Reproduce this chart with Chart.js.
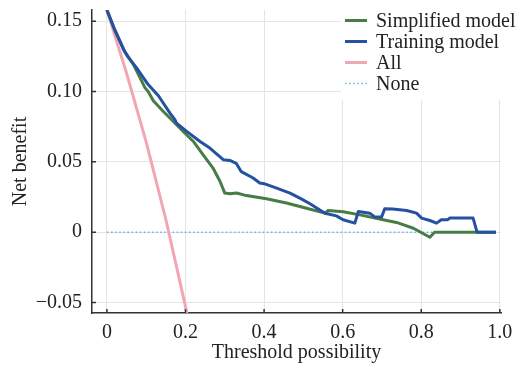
<!DOCTYPE html>
<html>
<head>
<meta charset="utf-8">
<script src="https://cdn.jsdelivr.net/npm/chart.js@4"></script>
<style>
  html, body { margin: 0; padding: 0; background: #fff; }
  #wrap { width: 531px; height: 370px; position: relative; }
</style>
</head>
<body>
<div id="wrap"><canvas id="c" width="531" height="370"></canvas></div>
<script>
// ---- data ----
const simplifiedX = [0, 0.02, 0.033, 0.046, 0.067, 0.084, 0.097, 0.105, 0.118, 0.143, 0.169, 0.198, 0.22, 0.245, 0.27, 0.288, 0.300, 0.313, 0.33, 0.355, 0.406, 0.457, 0.508, 0.555, 0.563, 0.601, 0.644, 0.703, 0.737, 0.780, 0.822, 0.834, 0.99];
const simplifiedNB = [0.158, 0.1435, 0.136, 0.128, 0.1195, 0.110, 0.1026, 0.100, 0.0935, 0.086, 0.0788, 0.0705, 0.0645, 0.055, 0.0456, 0.036, 0.0278, 0.0273, 0.0278, 0.026, 0.0237, 0.0207, 0.017, 0.0135, 0.0154, 0.0145, 0.0123, 0.0088, 0.0069, 0.0028, -0.0036, 0, 0];

const trainingX = [0, 0.02, 0.042, 0.054, 0.075, 0.105, 0.131, 0.16, 0.173, 0.177, 0.203, 0.237, 0.262, 0.296, 0.313, 0.329, 0.342, 0.372, 0.389, 0.40, 0.432, 0.466, 0.491, 0.517, 0.555, 0.584, 0.601, 0.631, 0.640, 0.669, 0.682, 0.699, 0.707, 0.727, 0.763, 0.788, 0.801, 0.822, 0.839, 0.851, 0.867, 0.873, 0.932, 0.942, 0.99];
const trainingNB = [0.158, 0.144, 0.130, 0.1245, 0.117, 0.105, 0.097, 0.0848, 0.080, 0.0776, 0.0717, 0.0645, 0.0598, 0.0515, 0.051, 0.049, 0.043, 0.0385, 0.035, 0.0345, 0.0313, 0.0278, 0.0242, 0.0202, 0.0135, 0.0116, 0.0088, 0.0064, 0.0147, 0.0135, 0.0107, 0.0107, 0.0166, 0.0164, 0.0154, 0.0135, 0.010, 0.0083, 0.0064, 0.0088, 0.0088, 0.010, 0.010, 0, 0];

const allX = [0, 0.05, 0.1, 0.15, 0.2, 0.25];
const allNB = [0.158, 0.113, 0.064, 0.009, -0.053, -0.123];

const noneX = [0, 0.99];
const noneNB = [0, 0];

const seriesLabels = ['Simplified model', 'Training model', 'All', 'None'];
const xTickValues = [0, 0.2, 0.4, 0.6, 0.8, 1.0];
const yTickValues = [-0.05, 0, 0.05, 0.10, 0.15];
const xTitle = 'Threshold possibility';
const yTitle = 'Net benefit';

// ---- styling ----
const FONT = "'Liberation Serif', 'Times New Roman', serif";
const TEXT = '#222222';
const AXIS = '#333333';
const GRID = '#e4e4e4';
const colors = ['#477d45', '#2451a1', '#f1a7b3', '#5fb4e6'];

const pts = (xs, ys) => xs.map((x, i) => ({ x: x, y: ys[i] }));

const inwardTicks = {
  id: 'inwardTicks',
  afterDraw(chart) {
    const ctx = chart.ctx;
    const xs = chart.scales.x, ys = chart.scales.y;
    const a = chart.chartArea;
    ctx.save();
    ctx.strokeStyle = AXIS;
    ctx.lineWidth = 1.5;
    ctx.beginPath();
    xs.ticks.forEach(t => {
      const px = xs.getPixelForValue(t.value);
      ctx.moveTo(px, a.bottom);
      ctx.lineTo(px, a.bottom - 4);
    });
    ys.ticks.forEach(t => {
      const py = ys.getPixelForValue(t.value);
      ctx.moveTo(a.left, py);
      ctx.lineTo(a.left + 4, py);
    });
    ctx.stroke();
    ctx.restore();
  }
};

const boxLegend = {
  id: 'boxLegend',
  afterDraw(chart) {
    const ctx = chart.ctx;
    const a = chart.chartArea;
    const left = 341, top = 0, right = a.right, bottom = 100;
    ctx.save();
    ctx.fillStyle = '#ffffff';
    ctx.fillRect(left, top, right - left, bottom - top);
    ctx.font = '20px ' + FONT;
    ctx.textBaseline = 'middle';
    ctx.textAlign = 'left';
    chart.data.datasets.forEach((ds, i) => {
      const cy = 20.5 + i * 21;
      ctx.strokeStyle = ds.borderColor;
      ctx.lineWidth = ds.borderWidth;
      ctx.setLineDash(ds.borderDash || []);
      ctx.beginPath();
      ctx.moveTo(345, cy);
      ctx.lineTo(367, cy);
      ctx.stroke();
      ctx.setLineDash([]);
      ctx.fillStyle = TEXT;
      ctx.fillText(ds.label, 376, cy + 1);
    });
    ctx.restore();
  }
};

new Chart(document.getElementById('c'), {
  type: 'scatter',
  data: {
    datasets: [
      { label: seriesLabels[0], data: pts(simplifiedX, simplifiedNB), borderColor: colors[0], borderWidth: 3, showLine: true, pointRadius: 0, order: 1 },
      { label: seriesLabels[1], data: pts(trainingX, trainingNB), borderColor: colors[1], borderWidth: 3, showLine: true, pointRadius: 0, order: 0 },
      { label: seriesLabels[2], data: pts(allX, allNB), borderColor: colors[2], borderWidth: 3, showLine: true, pointRadius: 0, order: 2 },
      { label: seriesLabels[3], data: pts(noneX, noneNB), borderColor: colors[3], borderWidth: 1.5, borderDash: [1.5, 2.6], showLine: true, pointRadius: 0, order: 3 }
    ]
  },
  options: {
    responsive: false,
    animation: false,
    devicePixelRatio: 1,
    layout: { padding: { top: 10, right: 30, left: 0, bottom: 0 } },
    plugins: { legend: { display: false }, tooltip: { enabled: false } },
    elements: { line: { tension: 0, borderCapStyle: 'butt', borderJoinStyle: 'round' } },
    scales: {
      x: {
        type: 'linear',
        min: -0.038, max: 1.003,
        afterBuildTicks: s => { s.ticks = xTickValues.map(v => ({ value: v })); },
        afterFit: s => { s.height = 57; s.paddingLeft = 0; s.paddingRight = 0; },
        grid: { color: GRID, lineWidth: 1, drawTicks: false },
        border: { display: true, color: AXIS, width: 1.5 },
        ticks: {
          padding: 8, color: TEXT, font: { family: FONT, size: 20 }, maxRotation: 0,
          callback: v => (v === 0 ? '0' : v.toFixed(1))
        },
        title: { display: true, text: xTitle, color: TEXT, font: { family: FONT, size: 20 }, padding: { top: 0, bottom: 5 } }
      },
      y: {
        type: 'linear',
        min: -0.0575, max: 0.158,
        afterBuildTicks: s => { s.ticks = yTickValues.map(v => ({ value: v })); },
        afterFit: s => { s.width = 92; s.paddingTop = 0; s.paddingBottom = 0; },
        grid: { color: GRID, lineWidth: 1, drawTicks: false },
        border: { display: true, color: AXIS, width: 1.5 },
        ticks: {
          padding: 10, color: TEXT, font: { family: FONT, size: 20 },
          callback: v => (Math.abs(v) < 1e-9 ? '0' : (v < 0 ? '\u2212' + Math.abs(v).toFixed(2) : v.toFixed(2)))
        },
        title: { display: true, text: yTitle, color: TEXT, font: { family: FONT, size: 20 }, padding: { top: 9, bottom: 0 } }
      }
    }
  },
  plugins: [inwardTicks, boxLegend]
});
</script>
</body>
</html>
